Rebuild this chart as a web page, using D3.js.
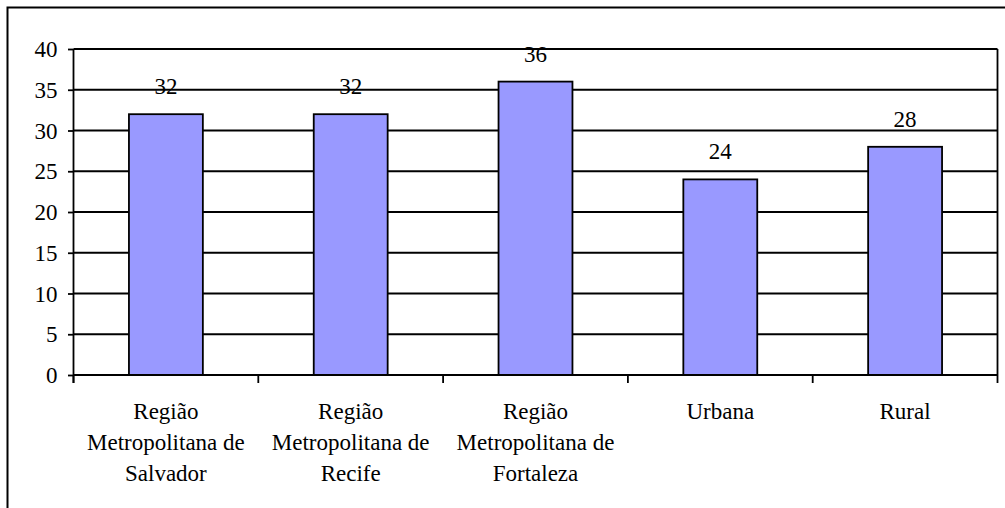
<!DOCTYPE html>
<html>
<head>
<meta charset="utf-8">
<script src="https://cdn.jsdelivr.net/npm/d3@7"></script>
</head>
<body style="margin:0">
<svg id="chart"></svg>
<script>
const categories = ["Região Metropolitana de Salvador", "Região Metropolitana de Recife", "Região Metropolitana de Fortaleza", "Urbana", "Rural"]
const values = [32, 32, 36, 24, 28]
const yTicks = [0, 5, 10, 15, 20, 25, 30, 35, 40]

const w = 1005
const h = 508
const margin = { left: 73.5, right: 7.5, top: 49, bottom: 133 }
const fontSize = "23px"
const lineW = 1.8
const fam = '"Liberation Serif", Tinos, "Times New Roman", FreeSerif, "DejaVu Serif"'

function wrapWords(s) {
  const lines = []
  let cur = ""
  s.split(" ").forEach(word => {
    const next = cur ? cur + " " + word : word
    if (next.length > 16 && cur) {
      lines.push(cur)
      cur = word
    } else {
      cur = next
    }
  })
  lines.push(cur)
  return lines
}

function draw() {
  const svg = d3.select("#chart")
    .attr("width", w)
    .attr("height", h)

  svg.selectAll("*").remove()

  // outer frame (runs off the right and bottom edges)
  svg.append("rect")
    .attr("x", 7.5)
    .attr("y", 7.5)
    .attr("width", 1020)
    .attr("height", 530)
    .attr("fill", "none")
    .attr("stroke", "#000")
    .attr("stroke-width", 2)

  const x = d3.scaleBand()
    .domain(categories)
    .range([margin.left, w - margin.right])

  const xBar = d3.scaleBand()
    .domain(categories)
    .range([margin.left, w - margin.right])
    .paddingInner(0.6)
    .paddingOuter(0.3)

  const y = d3.scaleLinear()
    .domain([0, 40])
    .range([h - margin.bottom, margin.top])

  // gridlines
  svg.append("g")
    .selectAll("line")
    .data(yTicks.filter(d => d > 0))
    .enter()
    .append("line")
    .attr("x1", margin.left)
    .attr("x2", w - margin.right)
    .attr("y1", d => y(d))
    .attr("y2", d => y(d))
    .attr("stroke", "#000")
    .attr("stroke-width", lineW)

  // right edge of plot area
  svg.append("line")
    .attr("x1", w - margin.right)
    .attr("x2", w - margin.right)
    .attr("y1", margin.top)
    .attr("y2", y(0))
    .attr("stroke", "#000")
    .attr("stroke-width", lineW)

  // bars
  svg.append("g")
    .selectAll("rect")
    .data(values)
    .enter()
    .append("rect")
    .attr("x", (d, i) => xBar(categories[i]))
    .attr("y", d => y(d))
    .attr("width", xBar.bandwidth())
    .attr("height", d => y(0) - y(d))
    .attr("fill", "#9999FF")
    .attr("stroke", "#000")
    .attr("stroke-width", lineW)

  // y axis ticks
  const yAxis = d3.axisLeft(y)
    .tickValues(yTicks)
    .tickSize(5.5)
    .tickFormat("")

  const gy = svg.append("g")
    .attr("transform", `translate(${margin.left}, 0)`)
    .call(yAxis)
  gy.select(".domain").remove()
  gy.selectAll("line").attr("stroke", "#000").attr("stroke-width", lineW)
  gy.append("line")
    .attr("x1", 0).attr("x2", 0)
    .attr("y1", margin.top).attr("y2", y(0) + 8)
    .attr("stroke", "#000").attr("stroke-width", lineW)

  // y tick labels
  svg.selectAll(".ylab")
    .data(yTicks)
    .enter()
    .append("text")
    .attr("class", "ylab")
    .attr("x", margin.left - 16)
    .attr("y", d => y(d))
    .attr("dy", "0.35em")
    .attr("text-anchor", "end")
    .style("font-family", fam)
    .style("font-size", fontSize)
    .text(d => d)

  // value labels
  svg.selectAll(".vlab")
    .data(values)
    .enter()
    .append("text")
    .attr("class", "vlab")
    .attr("x", (d, i) => xBar(categories[i]) + xBar.bandwidth() / 2)
    .attr("y", d => y(d) - 20)
    .attr("text-anchor", "middle")
    .style("font-family", fam)
    .style("font-size", fontSize)
    .text(d => d)

  // x axis: baseline + ticks at band edges
  svg.append("line")
    .attr("x1", margin.left)
    .attr("x2", w - margin.right)
    .attr("y1", y(0))
    .attr("y2", y(0))
    .attr("stroke", "#000")
    .attr("stroke-width", lineW)

  const edges = categories.map(c => x(c)).concat([x.range()[1]])
  svg.selectAll(".tick-edge")
    .data(edges)
    .enter()
    .append("line")
    .attr("class", "tick-edge")
    .attr("x1", d => d)
    .attr("x2", d => d)
    .attr("y1", y(0))
    .attr("y2", y(0) + 8)
    .attr("stroke", "#000")
    .attr("stroke-width", lineW)

  // category labels
  const labels = svg.selectAll(".cat")
    .data(categories)
    .enter()
    .append("text")
    .attr("class", "cat")
    .attr("text-anchor", "middle")
    .style("font-family", fam)
    .style("font-size", fontSize)

  labels.selectAll("tspan")
    .data(d => wrapWords(d).map(t => ({ t, cx: x(d) + x.bandwidth() / 2 })))
    .enter()
    .append("tspan")
    .attr("x", d => d.cx)
    .attr("y", (d, i) => 419 + i * 31)
    .text(d => d.t)
}

draw()
if (document.fonts && document.fonts.load) {
  document.fonts.load('23px "Liberation Serif"').then(draw).catch(() => {})
}
</script>
</body>
</html>
